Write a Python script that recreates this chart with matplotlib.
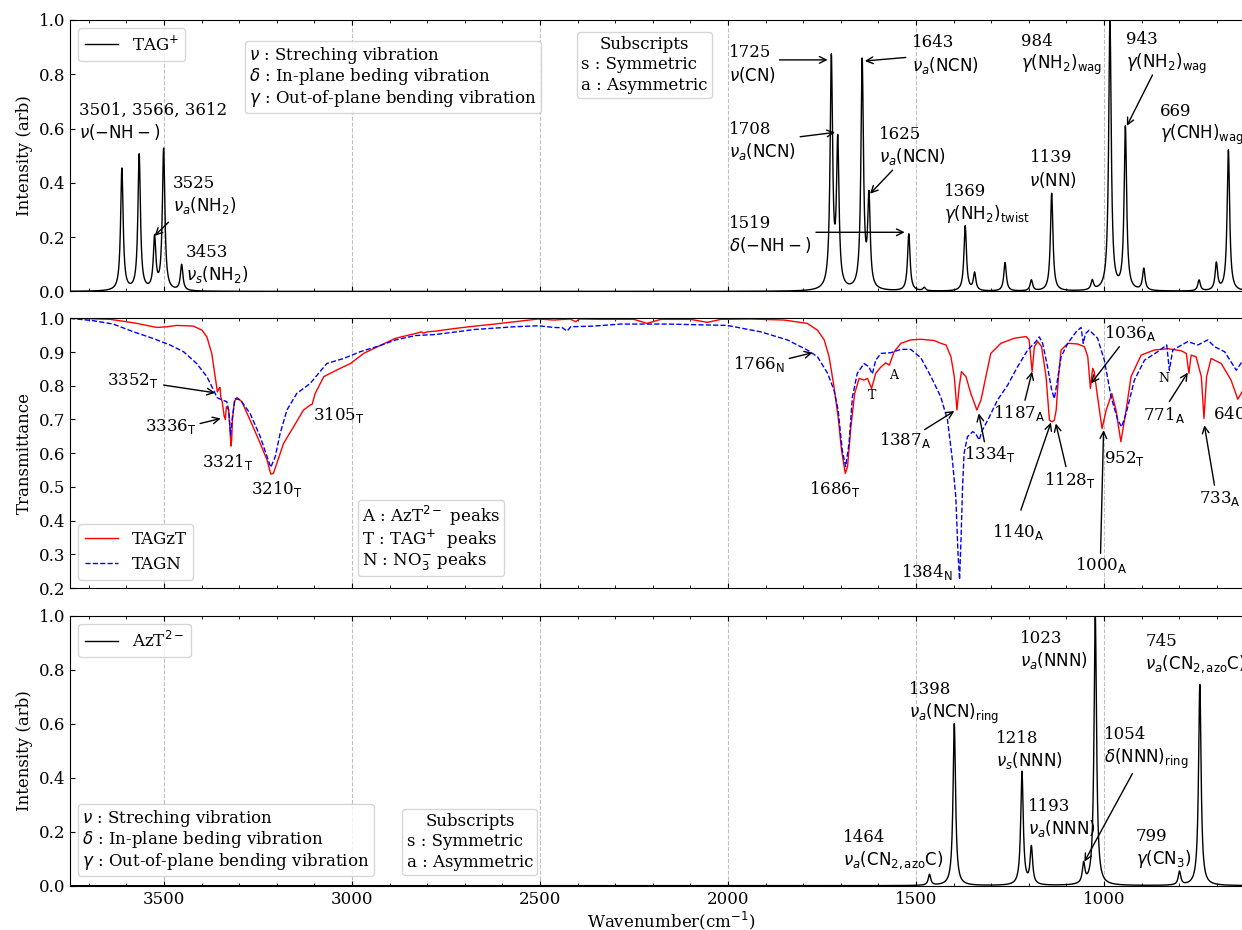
import numpy as np
import matplotlib
matplotlib.use('Agg')
from matplotlib import pyplot as plt
from matplotlib.lines import Line2D
from matplotlib.ticker import MultipleLocator

plt.rcParams['font.family'] = 'serif'
plt.rcParams['font.size'] = 12
plt.rcParams['mathtext.fontset'] = 'dejavusans'

# calculated TAG+ stick spectrum (peak position, intensity)
tag_pos = [3612, 3566, 3525, 3501, 3453, 1725, 1708, 1643, 1625, 1519, 1478, 1369, 1344,
           1263, 1193, 1139, 1031, 984, 943, 894, 747, 701, 669]
tag_int = [0.45, 0.50, 0.19, 0.52, 0.095, 0.845, 0.53, 0.84, 0.33, 0.21, 0.012, 0.24, 0.065,
           0.105, 0.04, 0.36, 0.035, 1.0, 0.60, 0.08, 0.04, 0.10, 0.52]

# calculated AzT2- stick spectrum
azt_pos = [1464, 1398, 1218, 1193, 1054, 1023, 799, 745]
azt_int = [0.04, 0.60, 0.42, 0.138, 0.073, 1.0, 0.05, 0.745]

hwhm = 4.0  # lorentzian half width used for the calculated spectra

# measured transmittance, TAGzT
tagzt_wn = [3750, 3700, 3643, 3600, 3572, 3519, 3493, 3466, 3422, 3399, 3386, 3373, 3364, 3358,
            3354, 3351, 3349, 3345, 3340, 3337, 3334, 3328, 3325, 3322, 3320, 3318, 3313, 3306,
            3293, 3271, 3244, 3226, 3216, 3209, 3200, 3182, 3155, 3129, 3111, 3106, 3098, 3075,
            3040, 3004, 2969, 2926, 2884, 2831, 2815, 2810, 2800, 2778, 2726, 2673, 2621, 2568,
            2505, 2463, 2420, 2405, 2395, 2339, 2250, 2215, 2179, 2099, 2055, 2019, 1940, 1851,
            1789, 1762, 1744, 1731, 1718, 1707, 1698, 1688, 1682, 1673, 1663, 1651, 1638, 1629,
            1618, 1607, 1593, 1580, 1571, 1558, 1540, 1514, 1487, 1451, 1434, 1420, 1407, 1398,
            1391, 1385, 1379, 1367, 1354, 1338, 1327, 1314, 1301, 1274, 1238, 1207, 1199, 1191,
            1185, 1176, 1166, 1154, 1145, 1138, 1132, 1127, 1121, 1114, 1096, 1070, 1052, 1043,
            1036, 1030, 1026, 1017, 1005, 994, 979, 968, 955, 941, 928, 901, 866, 830, 795, 781,
            774, 768, 755, 741, 734, 727, 715, 688, 662, 644, 630, 600]
tagzt_t = [1.0, 0.999, 0.997, 0.99, 0.985, 0.973, 0.975, 0.979, 0.977, 0.965, 0.945, 0.896, 0.827, 0.782,
           0.792, 0.795, 0.767, 0.752, 0.71, 0.70, 0.738, 0.728, 0.68, 0.621, 0.64, 0.698, 0.753, 0.765,
           0.753, 0.698, 0.629, 0.58, 0.538, 0.540, 0.57, 0.629, 0.679, 0.728, 0.743, 0.745, 0.777, 0.827,
           0.847, 0.866, 0.896, 0.919, 0.941, 0.955, 0.96, 0.956, 0.96, 0.962, 0.97, 0.977, 0.983, 0.99,
           0.998, 0.995, 0.998, 0.99, 0.998, 0.997, 0.997, 0.985, 0.997, 0.997, 0.988, 0.997, 0.998, 0.995,
           0.985, 0.965, 0.936, 0.886, 0.797, 0.708, 0.609, 0.540, 0.56, 0.678, 0.777, 0.822, 0.817, 0.822,
           0.792, 0.837, 0.856, 0.868, 0.861, 0.901, 0.926, 0.936, 0.938, 0.934, 0.926, 0.921, 0.886, 0.827,
           0.728, 0.797, 0.842, 0.827, 0.777, 0.728, 0.758, 0.827, 0.896, 0.926, 0.941, 0.946, 0.936, 0.842,
           0.916, 0.931, 0.916, 0.827, 0.698, 0.693, 0.698, 0.728, 0.827, 0.906, 0.926, 0.924, 0.916, 0.886,
           0.792, 0.852, 0.842, 0.767, 0.673, 0.728, 0.777, 0.728, 0.634, 0.728, 0.827, 0.891, 0.906, 0.910,
           0.904, 0.896, 0.837, 0.891, 0.886, 0.827, 0.703, 0.827, 0.881, 0.866, 0.817, 0.76, 0.787, 0.80]

# measured transmittance, TAGN
tagn_wn = [3750, 3688, 3635, 3581, 3528, 3484, 3448, 3413, 3386, 3368, 3359, 3346, 3333, 3328, 3323,
           3318, 3311, 3297, 3271, 3244, 3226, 3216, 3204, 3191, 3173, 3147, 3111, 3067, 3022, 2978,
           2926, 2884, 2831, 2778, 2673, 2568, 2505, 2463, 2440, 2428, 2418, 2357, 2286, 2161, 2002,
           1913, 1842, 1789, 1762, 1735, 1718, 1707, 1696, 1687, 1678, 1669, 1656, 1638, 1625, 1616,
           1607, 1593, 1567, 1540, 1514, 1487, 1460, 1434, 1416, 1403, 1394, 1388, 1384, 1380, 1376,
           1372, 1363, 1349, 1341, 1332, 1323, 1309, 1283, 1256, 1230, 1203, 1181, 1172, 1163, 1150,
           1139, 1132, 1125, 1114, 1096, 1074, 1061, 1055, 1049, 1039, 1017, 999, 981, 963, 953, 941,
           919, 892, 857, 833, 826, 817, 777, 750, 724, 706, 679, 648, 630, 600]
tagn_t = [1.0, 0.993, 0.983, 0.960, 0.940, 0.921, 0.901, 0.866, 0.827, 0.787, 0.765, 0.758, 0.753, 0.728, 0.654,
          0.708, 0.762, 0.758, 0.718, 0.649, 0.59, 0.558, 0.59, 0.659, 0.728, 0.777, 0.807, 0.866, 0.881, 0.901,
          0.919, 0.936, 0.949, 0.952, 0.967, 0.975, 0.978, 0.973, 0.972, 0.962, 0.975, 0.977, 0.983, 0.983, 0.979,
          0.96, 0.936, 0.906, 0.886, 0.837, 0.787, 0.728, 0.609, 0.56, 0.629, 0.767, 0.837, 0.866, 0.856, 0.835,
          0.876, 0.896, 0.898, 0.908, 0.908, 0.883, 0.827, 0.767, 0.698, 0.579, 0.47, 0.30, 0.225, 0.35, 0.50,
          0.599, 0.649, 0.664, 0.658, 0.639, 0.669, 0.698, 0.758, 0.802, 0.856, 0.906, 0.931, 0.945, 0.926, 0.856,
          0.787, 0.762, 0.807, 0.886, 0.926, 0.96, 0.973, 0.926, 0.955, 0.965, 0.941, 0.876, 0.767, 0.698, 0.678, 0.718,
          0.817, 0.876, 0.901, 0.921, 0.846, 0.906, 0.931, 0.921, 0.936, 0.916, 0.901, 0.846, 0.876, 0.88]


def broaden(pos, inten, x):
    y = np.zeros_like(x)
    for p, h in zip(pos, inten):
        y += h * hwhm**2 / ((x - p)**2 + hwhm**2)
    return y


def note_box(ax, lines, loc, anchor, title=None, spacing=0.0):
    handles = [Line2D([], [], ls='none')] * len(lines)
    leg = ax.legend(handles, lines, loc=loc, bbox_to_anchor=anchor, handlelength=0,
                    handletextpad=0, title=title, fontsize=12, title_fontsize=12,
                    borderaxespad=0, labelspacing=spacing, borderpad=0.25)
    ax.add_artist(leg)


def arrow(ax, head, tail):
    ax.annotate('', xy=head, xytext=tail,
                arrowprops=dict(arrowstyle='->', color='k', lw=1, shrinkA=0, shrinkB=0))


def style(ax):
    ax.set_xlim(3750, 553)
    ax.xaxis.set_major_locator(MultipleLocator(500))
    ax.xaxis.set_minor_locator(MultipleLocator(100))
    ax.tick_params(which='both', direction='in', top=True, right=True)
    ax.grid(axis='x', ls='--', color='0.75', lw=0.8)


wn = np.linspace(3750, 550, 6401)

fig = plt.figure(figsize=(12.42, 9.30), dpi=100)
ax1 = fig.add_axes([0.05636, 0.6866, 0.9678, 0.2919])
ax2 = fig.add_axes([0.05636, 0.3677, 0.9678, 0.2900])
ax3 = fig.add_axes([0.05636, 0.04763, 0.9678, 0.2903])

defs = ['$\\nu$ : Streching vibration', '$\\delta$ : In-plane beding vibration',
        '$\\gamma$ : Out-of-plane bending vibration']
subs = ['s : Symmetric', 'a : Asymmetric']

# ---- top: TAG+
style(ax1)
ax1.plot(wn, broaden(tag_pos, tag_int, wn), 'k', lw=1, label='TAG$^{+}$')
ax1.set_ylim(0, 1)
ax1.set_ylabel('Intensity (arb)')
ax1.tick_params(labelbottom=False)
note_box(ax1, defs, 'upper left', (0.1456, 0.9227), spacing=0.02)
note_box(ax1, subs, 'upper left', (0.4218, 0.956), title='Subscripts', spacing=0.2)
ax1.legend(loc='upper left', fontsize=12)

ax1.text(3726, 0.70, '3501, 3566, 3612\n$\\nu(-\\mathrm{NH}-)$', va='top')
ax1.text(3476, 0.43, '3525\n$\\nu_a(\\mathrm{NH_2})$', va='top')
arrow(ax1, (3525, 0.205), (3488, 0.255))
ax1.text(3442, 0.175, '3453\n$\\nu_s(\\mathrm{NH_2})$', va='top')
ax1.text(1998, 0.91, '1725\n$\\nu(\\mathrm{CN})$', va='top')
arrow(ax1, (1735, 0.853), (1863, 0.853))
ax1.text(1511, 0.947, '1643\n$\\nu_a(\\mathrm{NCN})$', va='top')
arrow(ax1, (1636, 0.849), (1527, 0.862))
ax1.text(1998, 0.628, '1708\n$\\nu_a(\\mathrm{NCN})$', va='top')
arrow(ax1, (1715, 0.586), (1808, 0.57))
ax1.text(1599, 0.609, '1625\n$\\nu_a(\\mathrm{NCN})$', va='top')
arrow(ax1, (1622, 0.36), (1562, 0.447))
ax1.text(1998, 0.283, '1519\n$\\delta(-\\mathrm{NH}-)$', va='top')
arrow(ax1, (1530, 0.218), (1766, 0.218))
ax1.text(1425, 0.40, '1369\n$\\gamma(\\mathrm{NH_2})_{\\rm twist}$', va='top')
ax1.text(1198, 0.523, '1139\n$\\nu(\\mathrm{NN})$', va='top')
ax1.text(1221, 0.953, '984\n$\\gamma(\\mathrm{NH_2})_{\\rm wag}$', va='top')
ax1.text(942, 0.959, '943\n$\\gamma(\\mathrm{NH_2})_{\\rm wag}$', va='top')
arrow(ax1, (939, 0.61), (871, 0.797))
ax1.text(852, 0.695, '669\n$\\gamma(\\mathrm{CNH})_{\\rm wag}$', va='top')

# ---- middle: measured transmittance
style(ax2)
ax2.plot(tagzt_wn, tagzt_t, 'r-', lw=1, label='TAGzT')
ax2.plot(tagn_wn, tagn_t, 'b--', lw=1, label='TAGN')
ax2.set_ylim(0.2, 1)
ax2.set_ylabel('Transmittance')
ax2.tick_params(labelbottom=False)
note_box(ax2, ['A : AzT$^{2-}$ peaks', 'T : TAG$^{+}$  peaks', 'N : NO$_3^{-}$ peaks'],
         'lower left', (0.2396, 0.0445), spacing=-0.05)
ax2.legend(loc='lower left', fontsize=12)

mid = [(3652, 0.815, '3352$_{\\rm T}$'), (3550, 0.678, '3336$_{\\rm T}$'),
       (3399, 0.575, '3321$_{\\rm T}$'), (3269, 0.495, '3210$_{\\rm T}$'),
       (3105, 0.713, '3105$_{\\rm T}$'), (1986, 0.866, '1766$_{\\rm N}$'),
       (1784, 0.495, '1686$_{\\rm T}$'), (1599, 0.639, '1387$_{\\rm A}$'),
       (1539, 0.248, '1384$_{\\rm N}$'), (1372, 0.597, '1334$_{\\rm T}$'),
       (1296, 0.718, '1187$_{\\rm A}$'), (1298, 0.367, '1140$_{\\rm A}$'),
       (1159, 0.52, '1128$_{\\rm T}$'), (999, 0.957, '1036$_{\\rm A}$'),
       (1078, 0.268, '1000$_{\\rm A}$'), (1001, 0.584, '952$_{\\rm T}$'),
       (897, 0.713, '771$_{\\rm A}$'), (748, 0.466, '733$_{\\rm A}$'),
       (709, 0.716, '640$_{\\rm A}$')]
for x, y, s in mid:
    ax2.text(x, y, s, va='center')
ax2.text(1616, 0.772, 'T', fontsize=9, ha='center', va='center')
ax2.text(1560, 0.83, 'A', fontsize=9, ha='center', va='center')
ax2.text(841, 0.822, 'N', fontsize=9, ha='center', va='center')

arrow(ax2, (3364, 0.779), (3501, 0.802))
arrow(ax2, (3349, 0.703), (3404, 0.688))
arrow(ax2, (1775, 0.898), (1837, 0.881))
arrow(ax2, (1398, 0.725), (1477, 0.67))
arrow(ax2, (1333, 0.718), (1318, 0.634))
arrow(ax2, (1191, 0.842), (1210, 0.757))
arrow(ax2, (1141, 0.691), (1221, 0.431))
arrow(ax2, (1128, 0.688), (1101, 0.56))
arrow(ax2, (1034, 0.807), (959, 0.916))
arrow(ax2, (1001, 0.668), (1009, 0.303))
arrow(ax2, (777, 0.839), (826, 0.753))
arrow(ax2, (733, 0.683), (706, 0.505))

# ---- bottom: AzT2-
style(ax3)
ax3.plot(wn, broaden(azt_pos, azt_int, wn), 'k', lw=1, label='AzT$^{2-}$')
ax3.set_ylim(0, 1)
ax3.set_ylabel('Intensity (arb)')
ax3.set_xlabel('Wavenumber(cm$^{-1}$)', labelpad=1.5)
note_box(ax3, defs, 'lower left', (0.0067, 0.037), spacing=0.02)
note_box(ax3, subs, 'lower left', (0.2766, 0.04), title='Subscripts', spacing=0.2)
ax3.legend(loc='upper left', fontsize=12)

ax3.text(1694, 0.21, '1464\n$\\nu_a(\\mathrm{CN}_{2,\\mathrm{azo}}\\mathrm{C})$', va='top')
ax3.text(1518, 0.757, '1398\n$\\nu_a(\\mathrm{NCN})_{\\rm ring}$', va='top')
ax3.text(1288, 0.578, '1218\n$\\nu_s(\\mathrm{NNN})$', va='top')
ax3.text(1203, 0.325, '1193\n$\\nu_a(\\mathrm{NNN})$', va='top')
ax3.text(1224, 0.948, '1023\n$\\nu_a(\\mathrm{NNN})$', va='top')
ax3.text(1000, 0.591, '1054\n$\\delta(\\mathrm{NNN})_{\\rm ring}$', va='top')
arrow(ax3, (1052, 0.089), (924, 0.416))
ax3.text(915, 0.214, '799\n$\\gamma(\\mathrm{CN_3})$', va='top')
ax3.text(890, 0.936, '745\n$\\nu_a(\\mathrm{CN}_{2,\\mathrm{azo}}\\mathrm{C})$', va='top')

fig.savefig('out.png', dpi=100)
